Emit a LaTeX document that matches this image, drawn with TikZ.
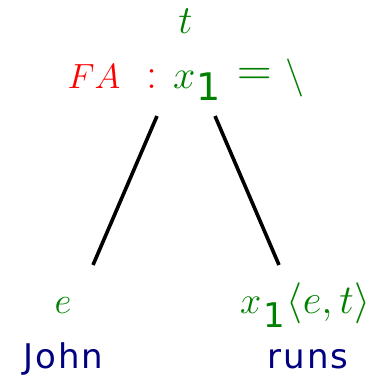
\RequirePackage{fix-cm}
\documentclass[tikz,border=0pt]{standalone}
\usepackage{fontspec}
\newfontfamily\wordfont[LetterSpace=6]{DejaVu Sans}
\newfontfamily\subfont{DejaVu Sans}
\usepackage{tikz}
\usetikzlibrary{positioning}

\begin{document}
\begin{tikzpicture}[x=1pt, y=-1pt,
    typ/.style={text=green!50!black, inner sep=0pt, anchor=base,
                font=\fontsize{38}{44}\selectfont},
    cat/.style={text=red, inner sep=0pt, anchor=base,
                font=\fontsize{35}{40}\selectfont},
    word/.style={text=blue!50!black, inner sep=0pt, anchor=base,
                 font=\wordfont\fontsize{34}{40}\selectfont},
    branch/.style={line width=3.6pt, black}]
  \useasboundingbox (0,0) rectangle (374,375);

  % root
  \node[typ, font=\fontsize{40}{44}\selectfont] (tTop) at (185.5,33) {$t$};
  \node[cat] (fa) at (94,88) {$FA$};
  \node[cat, font=\fontsize{44}{48}\selectfont] (colon) at (151.5,88) {$:$};
  \node[typ, anchor=base west, font=\fontsize{40}{44}\selectfont] (fx) at (173,88)
    {$x$\hspace{1pt}\raisebox{-12pt}{\subfont\fontsize{38}{40}\selectfont 1}};
  \node[typ, anchor=center, font=\fontsize{48}{52}\selectfont] (eqs) at (254.5,77) {$=$};
  \node[typ, anchor=center, font=\fontsize{38}{44}\selectfont] (bslash) at (295,78) {$\backslash$};

  % daughters
  \node[typ, font=\fontsize{37}{40}\selectfont] (te) at (63,313) {$e$};
  \node[typ, anchor=base west] (tx) at (240,313)
    {$x$\hspace{2pt}\raisebox{-14pt}{\subfont\fontsize{34}{40}\selectfont 1}\hspace{2pt}{\fontsize{41}{44}\selectfont$\langle e,t\rangle$}};
  \node[word] (john) at (63.5,368) {John};
  \node[word] (runs) at (308,368) {runs};

  % branches
  \coordinate (lTop) at (157,116);
  \coordinate (lBot) at (93,265);
  \coordinate (rTop) at (215,116);
  \coordinate (rBot) at (279,265);
  \draw[branch] (lTop) -- (lBot);
  \draw[branch] (rTop) -- (rBot);
\end{tikzpicture}
\end{document}
